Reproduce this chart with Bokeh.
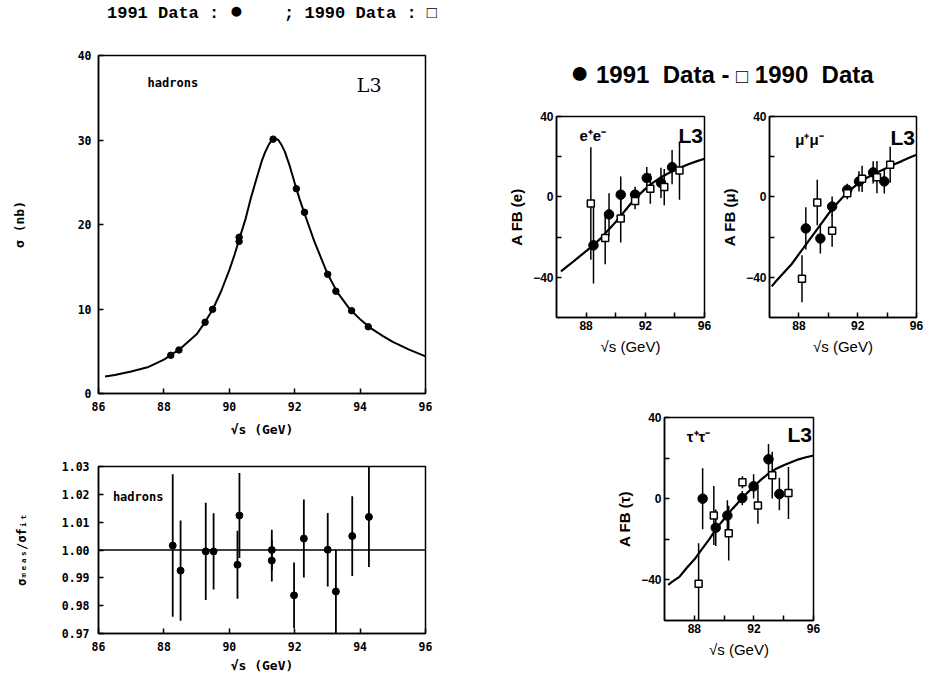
from bokeh.plotting import figure
from bokeh.models import ColumnDataSource, Label, Div, Spacer, FixedTicker, Range1d, PrintfTickFormatter
from bokeh.layouts import row, column
from bokeh.embed import file_html
from bokeh.resources import INLINE

# ---------------- data: hadron cross section (1991) ----------------
sig_x = [88.21, 88.46, 89.26, 89.49, 90.30, 90.30, 91.34, 92.05, 92.30, 93.01, 93.26, 93.74, 94.25]
sig_y = [4.52, 5.15, 8.43, 9.96, 18.0, 18.5, 30.1, 24.24, 21.44, 14.1, 12.1, 9.8, 7.9]
sig_fit_x = [86.2, 86.5, 87.0, 87.5, 88.0, 88.5, 89.0, 89.25, 89.5, 89.75, 90.0, 90.15, 90.3, 90.5,
             90.65, 90.8, 91.0, 91.1, 91.2, 91.3, 91.4, 91.5, 91.6, 91.7, 91.85, 92.0, 92.15, 92.3,
             92.6, 93.0, 93.3, 93.7, 94.0, 94.3, 94.7, 95.0, 95.5, 96.0]
sig_fit_y = [2.0, 2.2, 2.6, 3.1, 4.0, 5.3, 7.0, 8.4, 10.0, 12.1, 14.6, 16.3, 18.2, 20.7,
             23.0, 25.0, 27.6, 28.6, 29.4, 30.0, 30.2, 30.0, 29.4, 28.6, 26.9, 24.9, 23.0, 21.3,
             18.0, 14.2, 12.0, 9.9, 8.8, 7.8, 6.8, 6.1, 5.2, 4.4]

# ---------------- data: ratio measured / fit ----------------
res_x = [88.27, 88.51, 89.28, 89.52, 90.31, 90.25, 91.30, 91.30, 91.98, 92.28, 93.01, 93.26, 93.76, 94.27]
res_y = [1.0016, 0.9926, 0.9995, 0.9995, 1.0124, 0.9947, 1.0000, 0.9962, 0.9837, 1.0041, 1.0001, 0.9851, 1.0050, 1.0119]
res_err = [0.0256, 0.0180, 0.0175, 0.0137, 0.0153, 0.0122, 0.0073, 0.0075, 0.0118, 0.0140, 0.0132, 0.0150, 0.0143, 0.0180]
res_fit_x = [86.0, 96.0]
res_fit_y = [1.0, 1.0]

# ---------------- data: A_FB e+e- ----------------
ee_x91 = [88.50, 89.55, 90.34, 91.31, 92.10, 93.06, 93.81]
ee_y91 = [-24.1, -8.7, 1.1, 1.1, 9.4, 7.0, 14.8]
ee_e91 = [19.0, 10.5, 9.0, 4.0, 5.5, 7.5, 8.5]
ee_x90 = [88.32, 89.29, 90.34, 91.31, 92.34, 93.28, 94.31]
ee_y90 = [-3.3, -20.5, -10.7, -2.1, 4.1, 4.9, 13.1]
ee_e90 = [28.0, 13.0, 12.0, 4.0, 7.5, 9.0, 14.5]
ee_fit_x = [86.3, 87.0, 87.5, 88.0, 88.5, 89.0, 89.5, 90.0, 90.5, 91.0, 91.5, 92.0, 92.5, 93.0, 93.5, 94.0, 94.5, 95.0, 95.5, 96.0]
ee_fit_y = [-37.0, -33.0, -30.0, -27.0, -24.0, -20.5, -16.5, -12.5, -8.0, -3.5, 0.5, 4.0, 7.0, 9.5, 11.5, 13.5, 15.0, 16.5, 17.8, 19.0]

# ---------------- data: A_FB mu+mu- ----------------
mm_x91 = [88.47, 89.46, 90.26, 91.29, 92.09, 93.05, 93.81]
mm_y91 = [-15.7, -20.7, -4.8, 3.5, 7.7, 12.2, 7.7]
mm_e91 = [10.5, 7.5, 5.0, 3.0, 5.0, 5.5, 6.0]
mm_x90 = [88.21, 89.25, 90.26, 91.29, 92.30, 93.31, 94.21]
mm_y90 = [-40.7, -2.8, -16.8, 1.8, 9.0, 9.8, 16.0]
mm_e90 = [11.7, 11.3, 8.0, 3.0, 6.5, 8.0, 9.0]
mm_fit_x = [86.15, 86.5, 87.0, 87.5, 88.0, 88.5, 89.0, 89.5, 90.0, 90.5, 91.0, 91.5, 92.0, 92.5, 93.0, 93.5, 94.0, 94.5, 95.0, 95.5, 96.0]
mm_fit_y = [-44.5, -41.5, -37.5, -33.5, -28.5, -23.5, -18.5, -13.5, -8.5, -4.0, 0.0, 3.5, 6.5, 9.0, 11.0, 12.8, 14.5, 16.2, 17.8, 19.5, 21.0]

# ---------------- data: A_FB tau+tau- ----------------
tt_x91 = [88.56, 89.44, 90.22, 91.22, 91.98, 92.98, 93.71]
tt_y91 = [0.0, -14.3, -8.3, 0.3, 6.1, 19.4, 2.3]
tt_e91 = [15.0, 9.0, 7.5, 3.5, 6.0, 7.5, 8.0]
tt_x90 = [88.29, 89.31, 90.31, 91.23, 92.27, 93.23, 94.32]
tt_y90 = [-41.9, -8.3, -17.0, 8.1, -3.3, 11.6, 2.8]
tt_e90 = [20.0, 14.5, 13.5, 3.0, 9.0, 11.5, 12.8]
tt_fit_x = [86.25, 86.5, 87.0, 87.5, 88.0, 88.5, 89.0, 89.5, 90.0, 90.5, 91.0, 91.5, 92.0, 92.5, 93.0, 93.5, 94.0, 94.5, 95.0, 95.5, 96.0]
tt_fit_y = [-42.5, -41.0, -38.5, -34.0, -30.0, -25.0, -20.0, -14.5, -10.0, -5.5, -1.5, 2.5, 6.0, 9.5, 12.5, 14.8, 16.5, 18.0, 19.4, 20.4, 21.3]

x_ticks_left = [86, 88, 90, 92, 94, 96]
sig_ticks = [0, 10, 20, 30, 40]
res_ticks = [0.97, 0.98, 0.99, 1.00, 1.01, 1.02, 1.03]
afb_x_ticks = [88, 90, 92, 94, 96]
afb_y_ticks = [-40, -20, 0, 20, 40]

MONO = "DejaVu Sans Mono"
SANS = "Liberation Sans"


def make_fig(w, h, xr, yr, left, right, top, bottom):
    p = figure(width=w, height=h, x_range=Range1d(*xr), y_range=Range1d(*yr),
               output_backend="svg", toolbar_location=None, title=None,
               min_border_left=left, min_border_right=right,
               min_border_top=top, min_border_bottom=bottom)
    p.grid.visible = False
    p.outline_line_color = "black"
    p.outline_line_width = 1.5
    p.outline_line_alpha = 1.0
    p.background_fill_color = "white"
    p.border_fill_color = "white"
    for ax in (p.xaxis[0], p.yaxis[0]):
        ax.major_tick_in = 5
        ax.major_tick_out = 0
        ax.minor_tick_line_color = None
        ax.axis_line_width = 1.5
        ax.major_tick_line_width = 1.5
        ax.major_label_text_color = "black"
        ax.axis_label_text_color = "black"
    return p


def style_left(p):
    for ax in (p.xaxis[0], p.yaxis[0]):
        ax.major_label_text_font = MONO
        ax.major_label_text_font_style = "bold"
        ax.major_label_text_font_size = "11.5px"
        ax.axis_label_text_font = MONO
        ax.axis_label_text_font_style = "bold"
        ax.axis_label_text_font_size = "13px"


def style_right(p):
    for ax in (p.xaxis[0], p.yaxis[0]):
        ax.major_label_text_font = SANS
        ax.major_label_text_font_style = "bold"
        ax.major_label_text_font_size = "12px"
        ax.axis_label_text_font = SANS
        ax.axis_label_text_font_size = "15px"
    p.yaxis[0].axis_label_text_font_style = "bold"
    p.xaxis[0].axis_label_text_font_style = "normal"
    p.xaxis[0].ticker = FixedTicker(ticks=afb_x_ticks)
    p.xaxis[0].major_label_overrides = {90: "", 94: ""}
    p.yaxis[0].ticker = FixedTicker(ticks=afb_y_ticks)
    p.yaxis[0].major_label_overrides = {-20: "", 20: ""}
    p.xaxis[0].major_label_standoff = 3
    p.xaxis[0].axis_label_standoff = 5
    p.yaxis[0].major_label_standoff = 3
    p.yaxis[0].axis_label_standoff = 5


def err_source(x, y, e):
    return ColumnDataSource(dict(x=x, lo=[a - b for a, b in zip(y, e)], hi=[a + b for a, b in zip(y, e)]))


# ---------------- main cross-section plot ----------------
p_main = make_fig(429, 401, (86, 96), (0, 40), 89, 10, 13, 50)
style_left(p_main)
p_main.xaxis[0].ticker = FixedTicker(ticks=x_ticks_left)
p_main.yaxis[0].ticker = FixedTicker(ticks=sig_ticks)
p_main.xaxis[0].axis_label = "√s (GeV)"
p_main.yaxis[0].axis_label = "σ (nb)"
p_main.xaxis[0].major_label_standoff = 8
p_main.xaxis[0].axis_label_standoff = 8
p_main.yaxis[0].major_label_standoff = 7
p_main.yaxis[0].axis_label_standoff = 48
p_main.line(sig_fit_x, sig_fit_y, line_color="black", line_width=2)
p_main.scatter(sig_x, sig_y, marker="circle", size=6.5, fill_color="black", line_color="black")
p_main.add_layout(Label(x=87.5, y=36.7, text="hadrons", text_font=MONO, text_font_style="bold",
                        text_font_size="12px", text_baseline="middle", text_color="black"))
p_main.add_layout(Label(x=93.9, y=36.5, text="L3", text_font="DejaVu Serif",
                        text_font_size="19px", text_baseline="middle", text_color="black"))

# ---------------- ratio plot ----------------
p_res = make_fig(429, 232, (86, 96), (0.97, 1.03), 84, 12, 23, 42)
style_left(p_res)
p_res.xaxis[0].ticker = FixedTicker(ticks=x_ticks_left)
p_res.yaxis[0].ticker = FixedTicker(ticks=res_ticks)
p_res.yaxis[0].formatter = PrintfTickFormatter(format="%.2f")
p_res.xaxis[0].axis_label = "√s (GeV)"
p_res.yaxis[0].axis_label = "σₘₑₐₛ/σfᵢₜ"
p_res.yaxis[0].axis_label_text_font_size = "12px"
p_res.xaxis[0].major_label_standoff = 8
p_res.xaxis[0].axis_label_standoff = 4
p_res.yaxis[0].major_label_standoff = 9
p_res.yaxis[0].axis_label_standoff = 30
p_res.line(res_fit_x, res_fit_y, line_color="black", line_width=1.5)
p_res.segment(x0="x", y0="lo", x1="x", y1="hi", source=err_source(res_x, res_y, res_err),
              line_color="black", line_width=1.8)
p_res.scatter(res_x, res_y, marker="circle", size=7, fill_color="black", line_color="black")
p_res.add_layout(Label(x=86.44, y=1.0192, text="hadrons", text_font=MONO, text_font_style="bold",
                       text_font_size="12px", text_baseline="middle", text_color="black"))


# ---------------- A_FB plots ----------------
def afb_plot(w, h, left, right, top, bottom, ylabel, x91, y91, e91, x90, y90, e90, fx, fy, tag, tagx, tagy, l3y):
    p = make_fig(w, h, (86, 96), (-60, 40), left, right, top, bottom)
    style_right(p)
    p.xaxis[0].axis_label = "√s (GeV)"
    p.yaxis[0].axis_label = ylabel
    p.line(fx, fy, line_color="black", line_width=2.2)
    p.segment(x0="x", y0="lo", x1="x", y1="hi", source=err_source(x90, y90, e90),
              line_color="black", line_width=1.5)
    p.segment(x0="x", y0="lo", x1="x", y1="hi", source=err_source(x91, y91, e91),
              line_color="black", line_width=1.5)
    p.scatter(x91, y91, marker="circle", size=9.5, fill_color="black", line_color="black")
    p.scatter(x90, y90, marker="square", size=7, fill_color="white", line_color="black", line_width=1.5)
    p.add_layout(Label(x=tagx, y=tagy, text=tag, text_font=SANS, text_font_style="bold",
                       text_font_size="15px", text_baseline="middle", text_color="black"))
    p.add_layout(Label(x=95.9, y=l3y, text="L3", text_font=SANS, text_font_style="bold",
                       text_font_size="21px", text_baseline="middle", text_align="right",
                       text_color="black"))
    return p


p_ee = afb_plot(213, 262, 47, 14, 15, 45, "A FB (e)", ee_x91, ee_y91, ee_e91, ee_x90, ee_y90, ee_e90,
                ee_fit_x, ee_fit_y, "e⁺e⁻", 87.55, 30.4, 30.4)
p_mm = afb_plot(208, 262, 47, 10, 16, 44, "A FB (μ)", mm_x91, mm_y91, mm_e91, mm_x90, mm_y90, mm_e90,
                mm_fit_x, mm_fit_y, "μ⁺μ⁻", 87.75, 28.5, 29.5)
p_tt = afb_plot(213, 263, 47, 13, 15, 45, "A FB (τ)", tt_x91, tt_y91, tt_e91, tt_x90, tt_y90, tt_e90,
                tt_fit_x, tt_fit_y, "τ⁺τ⁻", 87.5, 30.4, 31.5)

# ---------------- headers ----------------
left_head = Div(text="1991 Data : <span style='font-size:23px;line-height:0'>●</span>    ; 1990 Data : □",
                width=340, height=34, margin=0,
                styles={"font-family": "Liberation Mono", "font-size": "17px", "font-weight": "bold",
                        "white-space": "pre", "color": "black", "line-height": "12px"})
right_head = Div(text="<span style='font-size:32px;line-height:0'>●</span> 1991  Data - "
                      "<span style='font-size:20px;line-height:0'>□</span> 1990  Data",
                 width=354, height=38, margin=0,
                 styles={"font-family": SANS, "font-size": "24px", "font-weight": "bold",
                         "white-space": "pre", "color": "black", "line-height": "26px"})

left_col = column(row(Spacer(width=99, height=34, margin=0), left_head), p_main, p_res)
right_col = column(
    Spacer(width=489, height=54, margin=0),
    row(Spacer(width=133, height=38, margin=0), right_head),
    row(Spacer(width=68, height=262, margin=0), p_ee, p_mm),
    Spacer(width=489, height=40, margin=0),
    row(Spacer(width=176, height=263, margin=0), p_tt),
)
left_col.width = 429
page = column(Spacer(width=926, height=8, margin=0),
              row(Spacer(width=8, height=667, margin=0), left_col, right_col))

open("out.html", "w").write(file_html(page, INLINE))
